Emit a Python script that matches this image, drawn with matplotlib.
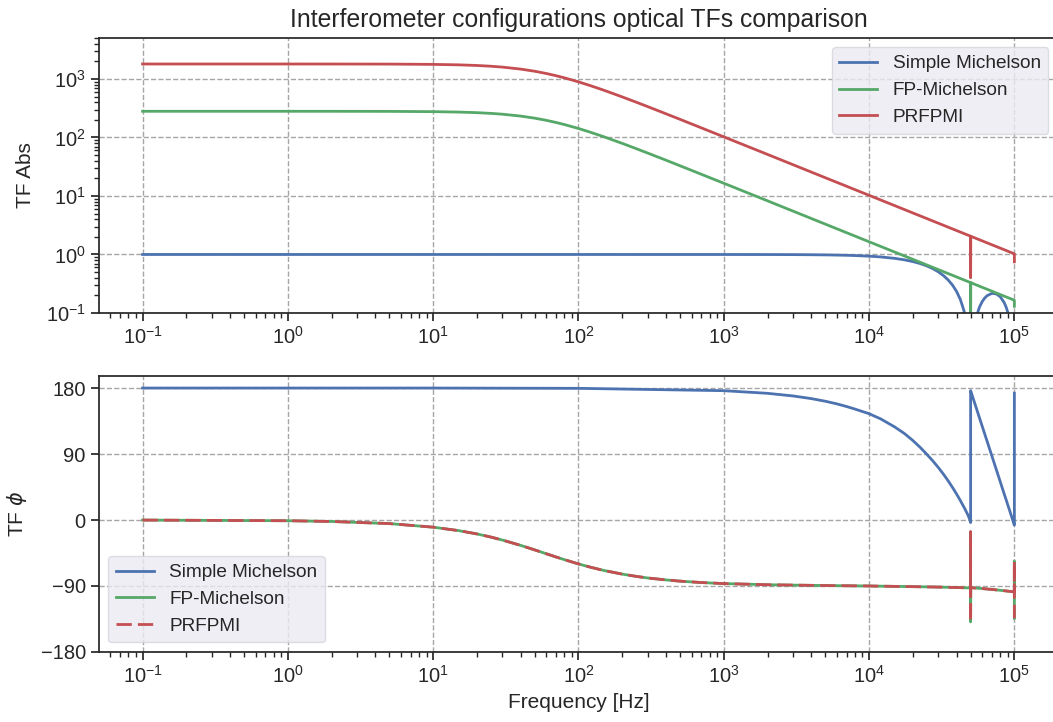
import matplotlib
matplotlib.use("Agg")
import matplotlib.pyplot as plt

# ---------------- data ----------------
fp_freq = [0.1, 1, 2, 5, 10, 15, 20, 25, 30, 40, 50, 60, 70, 80, 100, 120, 150,
           200, 250, 300, 400, 500, 700, 1000, 2000, 5000, 10000, 20000, 30000,
           40000, 49900, 50000, 50000, 50100, 60000, 70000, 80000, 90000, 99900,
           100000, 100000]

fpm_abs = [280, 280, 279.8, 279.0, 276.0, 271.4, 265.2, 257.8, 249.6, 231.7,
           213.6, 196.3, 180.4, 166.2, 142.3, 123.5, 102.5, 79.2, 64.3, 54.0,
           40.9, 32.8, 23.5, 16.5, 8.26, 3.30, 1.65, 0.826, 0.551, 0.413, 0.331,
           0.33, 0.01, 0.330, 0.275, 0.236, 0.2065, 0.1836, 0.1654, 0.165, 0.13]

prfpmi_abs = [1800, 1799.7, 1798.9, 1793.1, 1772.9, 1740.8, 1698.5, 1648.4,
              1592.9, 1473.4, 1353.2, 1239.7, 1136.6, 1044.5, 891.4, 772.3,
              639.4, 493.4, 400.1, 336.0, 253.9, 203.9, 146.1, 102.4, 51.3,
              20.5, 10.26, 5.13, 3.42, 2.565, 2.056, 2.05, 0.40, 2.048, 1.71,
              1.466, 1.283, 1.14, 1.027, 1.026, 0.75]

fpm_phase = [-0.1, -1.0, -2.0, -4.9, -9.8, -14.5, -19.0, -23.3, -27.4, -34.6,
             -40.8, -46.0, -50.4, -54.1, -59.9, -64.2, -68.9, -73.8, -76.9,
             -79.1, -81.7, -83.4, -85.3, -86.7, -88.3, -89.4, -90.0, -90.9,
             -91.5, -92.1, -92.7, -16.0, -139.0, -92.3, -93.5, -94.7, -95.9,
             -97.0, -98.0, -56.0, -134.0]

prfpmi_phase = [-0.1, -1.0, -2.0, -4.9, -9.8, -14.5, -19.0, -23.3, -27.4, -34.6,
                -40.8, -46.0, -50.4, -54.1, -59.9, -64.2, -68.9, -73.8, -76.9,
                -79.1, -81.7, -83.4, -85.3, -86.7, -88.3, -89.4, -90.0, -90.9,
                -91.5, -92.1, -92.7, -16.0, -139.0, -92.3, -93.5, -94.7, -95.9,
                -97.0, -98.0, -56.0, -134.0]

mich_freq = [0.1, 1, 10, 100, 1000, 2000, 3000, 4000, 5000, 6000, 7000, 8000,
             10000, 12000, 15000, 17500, 20000, 22500, 25000, 27500, 30000,
             32500, 35000, 37500, 40000, 42500, 45000, 46500, 48000, 49900,
             50000, 50000, 52000, 55000, 57500, 60000, 62500, 65000, 70000,
             75000, 80000, 85000, 87500, 90000, 92500, 95000, 99900, 100000,
             100000]

mich_abs = [1.0, 1.0, 1.0, 1.0, 0.9993, 0.9974, 0.9941, 0.9895, 0.9836, 0.9764,
            0.9681, 0.9584, 0.9355, 0.9079, 0.8584, 0.8103, 0.7568, 0.6987,
            0.6366, 0.5716, 0.5046, 0.4363, 0.3679, 0.3001, 0.2339, 0.1700,
            0.1093, 0.0746, 0.0415, 0.002, 1e-4, 1e-4, 0.0384, 0.0894, 0.1257,
            0.1559, 0.18, 0.1981, 0.2162, 0.2122, 0.1892, 0.1515, 0.1286,
            0.1040, 0.0781, 0.0518, 0.001, 1e-4, 1e-4]

mich_phase = [180, 180, 180, 179.6, 176.4, 172.8, 169.2, 165.6, 162, 158.4,
              154.8, 151.3, 145, 138, 127, 118, 108.5, 99, 89.5, 80.5, 71.5,
              62.5, 53.5, 44.5, 35.5, 26.5, 17.5, 12, 6.5, -2, -3.5, 176.5,
              166.1, 151.3, 139.5, 128.2, 117.4, 107.1, 87.5, 69.2, 52.1, 35.9,
              28.5, 20.9, 13.8, 6.6, -6.9, -7, 173]

labels = ["Simple Michelson", "FP-Michelson", "PRFPMI"]
phase_ticks = [-180, -90, 0, 90, 180]

# ---------------- style ----------------
plt.rcParams["font.family"] = ["Liberation Sans", "DejaVu Sans"]
dark = "#262626"
plt.rcParams.update({
    "text.color": dark,
    "axes.labelcolor": dark,
    "axes.edgecolor": dark,
    "axes.linewidth": 1.25,
    "xtick.color": dark,
    "ytick.color": dark,
    "xtick.direction": "out",
    "ytick.direction": "out",
    "xtick.major.size": 6,
    "ytick.major.size": 6,
    "xtick.minor.size": 3.5,
    "ytick.minor.size": 3.5,
    "xtick.major.width": 1.25,
    "ytick.major.width": 1.25,
    "xtick.minor.width": 1.0,
    "ytick.minor.width": 1.0,
})

blue, green, red = "#4C72B0", "#55A868", "#C44E52"
lw = 2.0

fig = plt.figure(figsize=(10.53, 7.22), dpi=100)
ax1 = fig.add_axes([0.094, 0.5665, 0.9107, 0.3809])
ax2 = fig.add_axes([0.094, 0.097, 0.9107, 0.3823])

# top: magnitude
ax1.plot(mich_freq, mich_abs, color=blue, lw=lw, label=labels[0])
ax1.plot(fp_freq, fpm_abs, color=green, lw=lw, label=labels[1])
ax1.plot(fp_freq, prfpmi_abs, color=red, lw=lw, label=labels[2])
ax1.set_xscale("log")
ax1.set_yscale("log")
ax1.set_xlim(10 ** -1.3, 10 ** 5.3)
ax1.set_ylim(0.1, 10 ** 3.7)
ax1.set_ylabel("TF Abs", fontsize=15, labelpad=8)
ax1.set_title("Interferometer configurations optical TFs comparison",
              fontsize=17.8, pad=8)

# bottom: phase
ax2.plot(mich_freq, mich_phase, color=blue, lw=lw, label=labels[0])
ax2.plot(fp_freq, fpm_phase, color=green, lw=lw, label=labels[1])
ax2.plot(fp_freq, prfpmi_phase, color=red, lw=lw, ls=(0, (5.5, 2.2)),
         label=labels[2])
ax2.set_xscale("log")
ax2.set_xlim(10 ** -1.3, 10 ** 5.3)
ax2.set_ylim(-180, 196.5)
ax2.set_yticks(phase_ticks)
ax2.set_ylabel("TF $\\phi$", fontsize=15, labelpad=8)
ax2.set_xlabel("Frequency [Hz]", fontsize=15)

for ax in (ax1, ax2):
    ax.grid(True, which="major", ls="--", color="#a6a6a6", lw=1.0)
    ax.tick_params(labelsize=14.5)
    ax.set_axisbelow(True)

leg_kw = dict(fontsize=13.7, facecolor="#EAEAF2", edgecolor="#d5d5dd",
              framealpha=0.8, fancybox=True)
ax1.legend(loc="upper right", **leg_kw)
ax2.legend(loc="lower left", **leg_kw)

fig.savefig("out.png", dpi=100)
